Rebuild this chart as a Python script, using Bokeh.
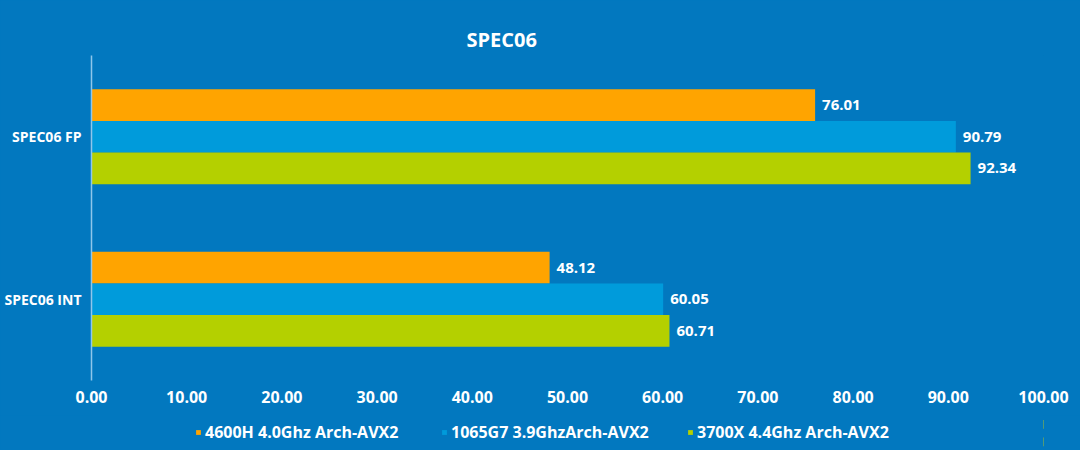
from bokeh.plotting import figure
from bokeh.models import (ColumnDataSource, FactorRange, Range1d, Legend, LegendItem,
                          NumeralTickFormatter, FixedTicker)
from bokeh.transform import dodge
from bokeh.core.properties import value
from bokeh.layouts import column
from bokeh.embed import file_html
from bokeh.resources import INLINE

categories = ["SPEC06 INT", "SPEC06 FP"]
series_names = ["4600H 4.0Ghz Arch-AVX2", "1065G7 3.9GhzArch-AVX2", "3700X 4.4Ghz Arch-AVX2"]
vals_4600h = [48.12, 76.01]
vals_1065g7 = [60.05, 90.79]
vals_3700x = [60.71, 92.34]
x_ticks = [0, 10, 20, 30, 40, 50, 60, 70, 80, 90, 100]

BG = "#0278BF"
colors = ["#FFA400", "#009BDB", "#B4D000"]
FONT = "Open Sans"

src = ColumnDataSource(dict(cat=categories, a=vals_4600h, b=vals_1065g7, c=vals_3700x,
                            la=[f"{v:.2f}" for v in vals_4600h],
                            lb=[f"{v:.2f}" for v in vals_1065g7],
                            lc=[f"{v:.2f}" for v in vals_3700x]))

p = figure(frame_width=952, frame_height=325,
           y_range=FactorRange(factors=categories, range_padding=0),
           x_range=Range1d(0, 100), output_backend="svg", toolbar_location=None,
           title="SPEC06", min_border_left=91, min_border_right=37, min_border_top=55,
           min_border_bottom=35)
p.background_fill_color = BG
p.border_fill_color = BG
p.outline_line_color = None
p.title.text_color = "white"
p.title.text_font = FONT
p.title.text_font_size = "20px"
p.title.text_font_style = "bold"
p.title.align = "left"
p.title.offset = 375
p.title.standoff = 6

offsets = [0.195, 0.0, -0.195]
fields = ["a", "b", "c"]
lfields = ["la", "lb", "lc"]
renderers = []
for f, lf, off, col in zip(fields, lfields, offsets, colors):
    r = p.hbar(y=dodge("cat", off, range=p.y_range), right=f, left=0, height=0.195,
               source=src, fill_color=col, line_color=None)
    renderers.append(r)
    p.text(x=f, y=dodge("cat", off, range=p.y_range), text=lf, source=src,
           x_offset=7, text_baseline="middle", text_align="left",
           text_color="white", text_font_size="15px", text_font_style="bold",
           text_font=value(FONT))

p.xgrid.visible = False
p.ygrid.visible = False

xa = p.xaxis[0]
xa.ticker = FixedTicker(ticks=x_ticks)
xa.formatter = NumeralTickFormatter(format="0.00")
xa.axis_line_color = None
xa.major_tick_line_color = None
xa.minor_tick_line_color = None
xa.major_tick_out = 0
xa.major_tick_in = 0
xa.major_label_text_color = "white"
xa.major_label_text_font = FONT
xa.major_label_text_font_size = "16px"
xa.major_label_text_font_style = "bold"
xa.major_label_standoff = 10

ya = p.yaxis[0]
ya.axis_line_color = "#8FC6EA"
ya.axis_line_width = 1.5
ya.major_tick_line_color = None
ya.minor_tick_line_color = None
ya.major_tick_out = 0
ya.major_tick_in = 0
ya.major_label_text_color = "white"
ya.major_label_text_font = FONT
ya.major_label_text_font_size = "14px"
ya.major_label_text_font_style = "bold"
ya.major_label_standoff = 10

# legend strip below the chart (its bars lie outside its visible range; only the legend shows)
lg = figure(width=1080, height=35, output_backend="svg", toolbar_location=None,
            min_border=0, x_range=Range1d(-2, -1),
            y_range=FactorRange(factors=categories))
lg.background_fill_color = BG
lg.border_fill_color = BG
lg.outline_line_color = None
lg.axis.visible = False
lg.grid.visible = False
lrs = []
for f, col in zip(fields, colors):
    lrs.append(lg.hbar(y="cat", right=f, left=0, height=0.5, source=src,
                       fill_color=col, line_color=None))

legend = Legend(items=[LegendItem(label=n, renderers=[r]) for n, r in zip(series_names, lrs)],
                orientation="horizontal", location=(104, 7),
                background_fill_alpha=0, border_line_color=None,
                label_text_color="white", label_text_font=FONT,
                label_text_font_size="16px", label_text_font_style="bold",
                glyph_width=6, glyph_height=6, label_standoff=4, label_width=236,
                spacing=0, padding=0, margin=0)
lg.add_layout(legend, "center")

layout = column(p, lg, spacing=0, styles={"background-color": BG})
open("out.html", "w").write(file_html(layout, INLINE))
